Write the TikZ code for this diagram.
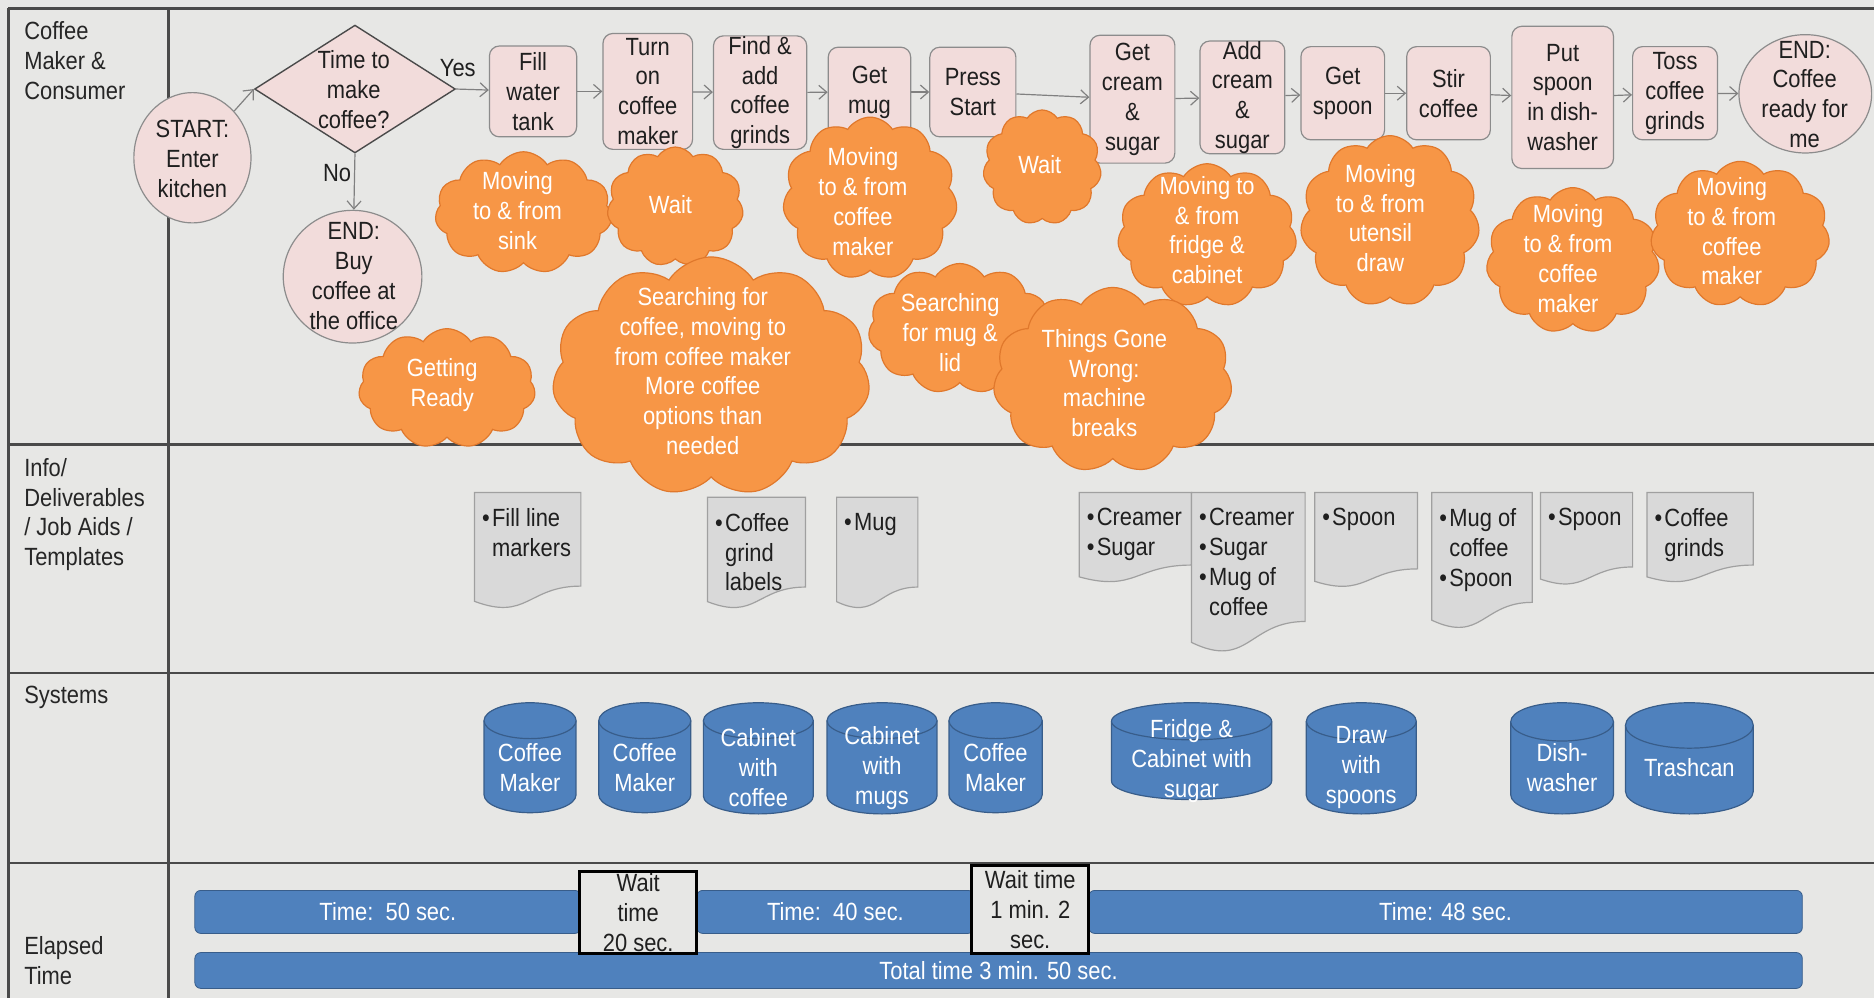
\documentclass[tikz,border=0pt]{standalone}
\usepackage{fontspec}
\setmainfont{Liberation Sans}[FakeStretch=0.88]
\usetikzlibrary{shapes.geometric,shapes.symbols,arrows.meta}

\definecolor{bg}{HTML}{E7E7E5}
\definecolor{frame}{HTML}{4A4A4A}
\definecolor{stepfill}{HTML}{F2DCDB}
\definecolor{stepline}{HTML}{8C8C8C}
\definecolor{waste}{HTML}{F79646}
\definecolor{wasteline}{HTML}{E0782C}
\definecolor{docfill}{HTML}{D9D9D9}
\definecolor{docline}{HTML}{A0A0A0}
\definecolor{sysfill}{HTML}{4F81BD}
\definecolor{sysline}{HTML}{385D8A}
\definecolor{ink}{HTML}{1F1F1F}
\definecolor{flow}{HTML}{808080}

% bullet for the deliverables lists
\newcommand\itm{\makebox[5pt][l]{•}}
\newcommand\ind{\hspace*{5pt}}

\tikzset{
  every node/.style={font=\fontsize{12.5}{15}\selectfont, text=ink},
  sz/.style 2 args={minimum width=#1*0.6pt, minimum height=#2*0.6pt},
  stepbox/.style={draw=stepline, fill=stepfill, rounded corners=5pt, line width=0.6pt, align=center, inner sep=0pt},
  terminal/.style={ellipse, draw=stepline, fill=stepfill, line width=0.6pt, inner sep=0pt},
  decision/.style={diamond, draw=frame, fill=stepfill, line width=0.7pt, inner sep=0pt},
  steptext/.style={align=center, inner sep=0pt},
  waste/.style={cloud, cloud puffs=11, cloud puff arc=115, cloud ignores aspect, draw=wasteline, fill=waste, line width=0.6pt, inner sep=0pt},
  wastetext/.style={text=white, align=center, inner sep=0pt},
  flowarrow/.style={draw=flow, line width=0.6pt, -{Straight Barb[length=4pt,width=7pt]}},
  lanelabel/.style={anchor=north west, align=left, inner sep=0pt, text=black!85},
  doctext/.style={anchor=north west, align=left, inner sep=0pt},
  systext/.style={text=white, align=center, inner sep=0pt},
  bar/.style={fill=sysfill, draw=sysline, line width=0.4pt, rounded corners=3pt, text=white, inner sep=0pt},
  waitbox/.style={draw=black, line width=1.4pt, fill=bg, align=center, inner sep=0pt},
  lane/.style={draw=frame, line width=1.2pt},
}

% database cylinder: name, centre x, top y, bottom y, half width, rim radius, text
\newcommand\sysdb[7]{%
  \fill[sysfill] ({#2-#5},{#3+#6}) rectangle ({#2+#5},{#4-#6});
  \fill[sysfill] (#2,{#4-#6}) ellipse[x radius={#5*0.6pt}, y radius={#6*0.6pt}];
  \draw[sysline, line width=0.6pt] ({#2-#5},{#3+#6}) -- ({#2-#5},{#4-#6})
     arc[start angle=180, end angle=360, x radius={#5*0.6pt}, y radius={#6*0.6pt}] -- ({#2+#5},{#3+#6});
  \filldraw[fill=sysfill, draw=sysline, line width=0.6pt] (#2,{#3+#6}) ellipse[x radius={#5*0.6pt}, y radius={#6*0.6pt}];
  \node[systext] (#1) at (#2,{(#3+#4)/2+8}) {#7};
}

% document shape with wavy foot: name, x1, y1, x2, y2, text
\newcommand\deliv[6]{%
  \filldraw[fill=docfill, draw=docline, line width=0.6pt]
    (#2,#3) -- (#4,#3) -- (#4,{#3+0.8*(#5-#3)})
    .. controls ({(#2+#4)/2},{#3+0.8*(#5-#3)}) and ({(#2+#4)/2},{#3+1.1*(#5-#3)}) ..
    (#2,{#3+0.93*(#5-#3)}) -- cycle;
  \node[doctext] (#1) at ({#2+6},{#3+13}) {#6};
}

\begin{document}
\begin{tikzpicture}[x=0.6pt, y=-0.6pt]
\useasboundingbox (0,0) rectangle (1568,835);
\fill[bg] (0,0) rectangle (1568,835);

% swim lane grid
\draw[lane] (7,7) -- (1568,7);
\draw[lane] (7,7) -- (7,835);
\draw[lane] (141,7) -- (141,835);
\draw[lane] (7,372) -- (1568,372);
\draw[lane] (7,563) -- (1568,563);
\draw[lane] (7,722) -- (1568,722);

% lane titles
\node[lanelabel] (l1) at (20,18) {Coffee\\Maker \&\\Consumer};
\node[lanelabel] (l2) at (20,383) {Info/\\Deliverables\\/ Job Aids /\\Templates};
\node[lanelabel] (l3) at (20,574) {Systems};
\node[lanelabel] (l4) at (20,783) {Elapsed\\Time};

% process steps
\node[terminal, sz={98}{109}] (start) at (161,132) {};
\node[steptext] (startT) at (161,133) {START:\\Enter\\kitchen};
\node[decision, sz={168}{107}] (dia) at (297,74.5) {};
\node[steptext] (diaT) at (296,75) {Time to\\make\\coffee?};
\node[terminal, sz={116}{111}] (buy) at (295,231.5) {};
\node[steptext] (buyT) at (296,231) {END:\\Buy\\coffee at\\the office};

\node[stepbox, sz={73}{76}] (fill) at (446,76.5) {Fill\\water\\tank};
\node[stepbox, sz={75}{97}] (turn) at (542,76.5) {Turn\\on\\coffee\\maker};
\node[stepbox, sz={78}{95}] (find) at (636,77.5) {Find \&\\add\\coffee\\grinds};
\node[stepbox, sz={69}{75}] (mug) at (727.5,77) {Get\\mug};
\node[stepbox, sz={72}{75}] (press) at (814,77) {Press\\Start};
\node[stepbox, sz={71}{107}] (cream) at (947.5,83) {Get\\cream\\\&\\sugar};
\node[stepbox, sz={71}{93}] (addc) at (1039.5,81.5) {Add\\cream\\\&\\sugar};
\node[stepbox, sz={70}{78}] (spoon) at (1123.5,78) {Get\\spoon};
\node[stepbox, sz={70}{78}] (stir) at (1212,78) {Stir\\coffee};
\node[stepbox, sz={85}{119}] (put) at (1307.5,81.5) {Put\\spoon\\in dish-\\washer};
\node[stepbox, sz={71}{78}] (toss) at (1401.5,78) {Toss\\coffee\\grinds};
\node[terminal, sz={111}{99}] (done) at (1510.5,78.5) {};
\node[steptext] (doneT) at (1510,79) {END:\\Coffee\\ready for\\me};

% flow
\draw[flowarrow] (start) -- (dia.west);
\draw[flowarrow] (dia.east) -- (fill);
\draw[flowarrow] (dia.south) -- (buy);
\node (yes) at (383,57) {Yes};
\node (no) at (282,145) {No};
\draw[flowarrow] (fill) -- (turn);
\draw[flowarrow] (turn) -- (find);
\draw[flowarrow] (find) -- (mug);
\draw[flowarrow] (mug) -- (press);
\draw[flowarrow] (press) -- (cream);
\draw[flowarrow] (cream) -- (addc);
\draw[flowarrow] (addc) -- (spoon);
\draw[flowarrow] (spoon) -- (stir);
\draw[flowarrow] (stir) -- (put);
\draw[flowarrow] (put) -- (toss);
\draw[flowarrow] (toss) -- (done);

% waste clouds
\node[waste, sz={148}{102}] (cSink) at (438,178) {};
\node[wastetext] at (433,176) {Moving\\to \& from\\sink};
\node[waste, sz={114}{100}] (cWait1) at (565,173) {};
\node[wastetext] at (561,171) {Wait};
\node[waste, sz={146}{136}] (cMove1) at (728,166) {};
\node[wastetext] at (722,168.5) {Moving\\to \& from\\coffee\\maker};
\node[waste, sz={99}{96}] (cWait2) at (872,140) {};
\node[wastetext] at (870,138) {Wait};
\node[waste, sz={150}{120}] (cFridge) at (1010,197) {};
\node[wastetext] at (1010,192.5) {Moving to\\\& from\\fridge \&\\cabinet};
\node[waste, sz={150}{143}] (cUtensil) at (1163,185) {};
\node[wastetext] at (1155,182.5) {Moving\\to \& from\\utensil\\draw};
\node[waste, sz={145}{122}] (cMove2) at (1316,218) {};
\node[wastetext] at (1312,216.5) {Moving\\to \& from\\coffee\\maker};
\node[waste, sz={150}{122}] (cMove3) at (1456,196) {};
\node[wastetext] at (1449,193.5) {Moving\\to \& from\\coffee\\maker};
\node[waste, sz={148}{100}] (cReady) at (374,325) {};
\node[wastetext] at (370,322.5) {Getting\\Ready};
\node[waste, sz={266}{200}] (cSearch) at (595,315) {};
\node[wastetext] at (588,310.5) {Searching for\\coffee, moving to\\from coffee maker\\More coffee\\options than\\needed};
\node[waste, sz={153}{109}] (cMug) at (803,275) {};
\node[wastetext] at (795,278) {Searching\\for mug \&\\lid};
\node[waste, sz={200}{155}] (cWrong) at (931,318) {};
\node[wastetext] at (924,320.5) {Things Gone\\Wrong:\\machine\\breaks};

% deliverables
\deliv{d1}{397}{412}{486}{510}{\itm Fill line\\\ind markers}
\deliv{d2}{592}{416}{674}{510}{\itm Coffee\\\ind grind\\\ind labels}
\deliv{d3}{700}{416}{768}{510}{\itm Mug}
\deliv{d4}{903}{412}{997}{488}{\itm Creamer\\\itm Sugar}
\deliv{d5}{997}{412}{1092}{547}{\itm Creamer\\\itm Sugar\\\itm Mug of\\\ind coffee}
\deliv{d6}{1100}{412}{1186}{492}{\itm Spoon}
\deliv{d7}{1198}{412}{1282}{527}{\itm Mug of\\\ind coffee\\\itm Spoon}
\deliv{d8}{1289}{412}{1366}{490}{\itm Spoon}
\deliv{d9}{1378}{412}{1467}{488}{\itm Coffee\\\ind grinds}

% systems
\sysdb{s1}{443.5}{588}{680}{38.5}{15}{Coffee\\Maker}
\sysdb{s2}{539.5}{588}{680}{38.5}{15}{Coffee\\Maker}
\sysdb{s3}{634.5}{588}{681}{46}{15}{Cabinet\\with\\coffee}
\sysdb{s4}{738}{588}{681}{46}{15}{Cabinet\\with\\mugs}
\sysdb{s5}{833}{588}{680}{39}{15}{Coffee\\Maker}
\sysdb{s6}{997}{588}{669}{67}{15.5}{Fridge \&\\Cabinet with\\sugar}
\sysdb{s7}{1139}{588}{681}{46}{15.5}{Draw\\with\\spoons}
\sysdb{s8}{1307}{588}{681}{43}{16}{Dish-\\washer}
\sysdb{s9}{1413.5}{588}{681}{53.5}{19}{Trashcan}

% elapsed time
\node[bar, sz={323}{36}] (t1) at (324.5,763) {Time:~~50 sec.};
\node[bar, sz={232}{36}] (t2) at (699,763) {Time:~~40 sec.};
\node[bar, sz={597}{36}] (t3) at (1209.5,763) {Time: 48 sec.};
\node[bar, sz={1345}{30}] (total) at (835.5,812) {Total time 3 min. 50 sec.};
\node[waitbox, sz={98}{69}] (w1) at (534,763.5) {Wait\\time\\20 sec.};
\node[waitbox, sz={98}{74}] (w2) at (862,761) {Wait time\\1 min. 2\\sec.};
\end{tikzpicture}
\end{document}
